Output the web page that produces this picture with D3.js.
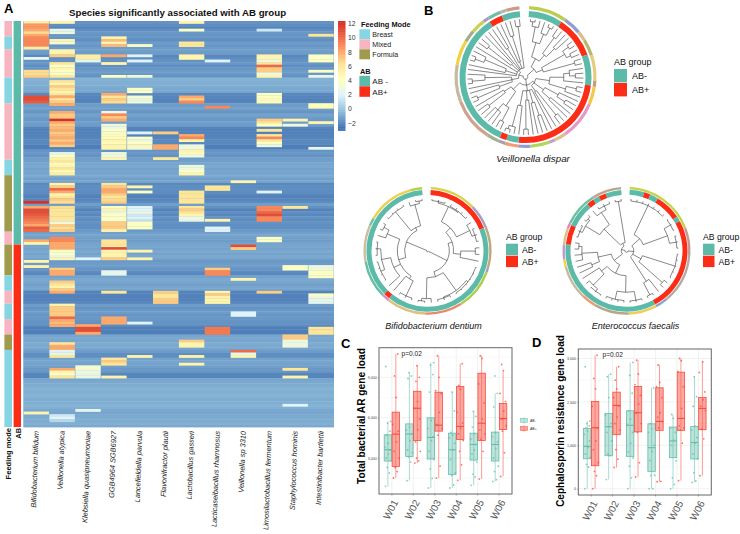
<!DOCTYPE html>
<html><head><meta charset="utf-8">
<script src="https://cdn.jsdelivr.net/npm/d3@7"></script>
<style>html,body{margin:0;padding:0;background:#fff}svg{display:block}text{font-family:"Liberation Sans",Arial,sans-serif}</style>
</head><body><svg id="c" width="740" height="534"></svg>
<script>
// ---------- Panel A data ----------
const species=["Bifidobacterium bifidum","Veillonella atypica","Klebsiella quasipneumoniae","GGB4964 SGB6927","Lancefieldella parvula","Flavonifractor plautii","Lactobacillus gasseri","Lacticaseibacillus rhamnosus","Veillonella sp 3310","Limosilactobacillus fermentum","Staphylococcus hominis","Intestinibacter bartlettii"];
const rowBase=[-1.6,-1.7,-2,-1.7,-1.4,-1.5,-1.5,-1.7,-1.3,-1.5,-1.3,-1.2,-1.3,-1.9,-1.8,-1.6,-1.4,-1.7,-1.5,-1.3,-1.4,-1.6,
-.6,-.7,-.7,-.8,-.9,-1,-1.9,-2,-2.1,-2,-1.3,-1.2,-1.3,-1.5,-1.1,-1.3,-1.4,-1.2,-1.3,-2,-2.1,-2.1,-2.1,-2,-1.9,-1.9,-2.2,-2.2,
-1.5,-1.4,-1.6,-1.3,-1.2,-1,-.9,-1.1,-1,-1,-.9,-1.2,-1,-1.9,-1.8,-1.7,-1.8,-2,-2.1,-2,-1.8,-1.2,-1.6,-2.1,-1.7,-1.9,-1.6,-1.8,-1.6,-1.7,-1.7,-1.4,
-1.2,-1,-1.2,-1.3,-1.1,-1,-1.1,-.9,-1.1,-.9,-1.1,-1.4,-1.3,-1.3,-1.5,-1.8,-1.9,-1.1,-.9,-1,-1.2,-1,-1.1,-2.1,-2.1,-2.1,-2.1,-2,-1.3,-1.6,-1.4,-1.3,-1.5,-1.4,-1.5,-1.6,-1.8,-2.2,-2.2,-2.2,
-1,-.9,-1,-.8,-.9,-1,-1.3,-1.7,-1.8,-1.1,-1,-1.1,-1.2,-1.4,-1.5,-2,-2,-1,-.9,-.8,-.7,-.6,-.7,-.6,-.7,-.8,-.7,-.6,-.7,-.9,-1,-.9,-.8,-.8,-.7,-.9];
const hotRuns=[
 [[0,[5.5,8.5,8.5,8,6.5,8,9,9,9,9,5.5]],[14,[2.5]],[19,[6.5,6.5,7]],[29,[11,11,10.5]],[70,[12]],[72,[8,11,11,10.5,10,9.5,9,8,10.5,10]],[85,[8]],[86,[5]],[93,[5]],[95,[5]],[152,[5]]],
 [[0,[5]],[3,[2.5,3]],[7,[5,3.5]],[11,[5,5,7]],[16,[6,4,5,4,4,6]],[23,[6,5,7,6,5,6,8,6,7,8]],[35,[8,7,7,12,8,7,7.5,8,7,7.5,8,7,8,7]],[51,[2.5,4,5,6,4.5,5,6,4.5,5.5]],[63,[5,7,10,8,5,6,7,6.5]],[72,[6.5,6,6,6,6,6,3,7,6.5,7]],[84,[9,9,8,8,8,4,4,2.5,5]],[96,[7,8,8]],[101,[7,6,5,7,8]],[110,[5,7,7,7,7,10,8,7.5,8]],[125,[6,8,8,2,2.5,6]],[135,[8,5,4,6]],[153,[1.5,2,.8]]],
 [[13,[5.5,5.5,2.5]],[92,[2]],[118,[8,11,11,8]],[134,[3.5,3.5,3,2.8,2.8]],[151,[2.5]]],
 [[6,[5,7.5,5,7.5]],[13,[8]],[16,[5]],[21,[4]],[28,[8,6,7,6.5]],[35,[3,9,7,8]],[40,[3,3,4,3.5,4.5,4.5,5,4.5,5,5]],[51,[3,3,5]],[63,[6,7,8,8,7,6,6.5,7]],[72,[4,5,3,4,4,4,7,7,7,5]],[85,[6,6,6,11,5,5,5,7]],[97,[2.5,2.5]],[105,[6]],[115,[8,8,8]],[131,[6,7,6]],[138,[5]]],
 [[9,[4]],[13,[2]],[15,[2]],[21,[3]],[26,[4,4]],[29,[3.5,3,3]],[43,[2]],[45,[4,3,4,5,3]],[64,[5]],[66,[4]],[72,[2,2,3,1.5,2,1.2,4,4,4]],[89,[5]],[92,[5]],[117,[2]],[130,[5]]],
 [[43,[7]],[48,[8,8]],[53,[6]],[105,[7,6,6,7,7]]],
 [[0,[5]],[3,[4]],[8,[6,6]],[13,[5,5]],[29,[8,7,9]],[44,[8,9,5]],[48,[3,3,5,4.5,3]],[56,[3,3,4,5]],[66,[6,6,6,6,6]],[72,[6,7,6,5,3,2.5]],[124,[7,5,5]],[130,[5]],[133,[5]]],
 [[15,[2]],[33,[9]],[64,[6,6]],[77,[5]],[80,[2,2]],[96,[7,9,9]],[105,[5,7,5,5,5]],[119,[9.5,9.5,9.5]]],
 [[62,[5]],[87,[11,7]],[100,[5]],[113,[2,2]],[128,[10,2.5,5]]],
 [[3,[1.5]],[13,[5,5,3,6,10,7,7,3,5]],[28,[4,4,4.5,4.5]],[38,[7,6,4]],[42,[6]],[44,[6,9,6,4,3]],[66,[2]],[72,[9,9,10,11,9,9]],[84,[4,4]],[105,[7]]],
 [[38,[5]],[40,[3]],[72,[6]],[95,[4,4]],[122,[7,7,3,3,3]],[135,[6]],[138,[5]],[149,[2]]],
 [[5,[6]],[13,[4,4,4]],[19,[4]],[21,[2.5]],[32,[4.5,4.5]],[39,[5]],[49,[2.5]],[95,[3,3,4,4,4]],[106,[4,3,2.5,2.5]],[119,[6,6,6]]]
];
const feedingRuns=[["Mixed",0,5],["Breast",6,10],["Mixed",11,21],["Breast",22,31],["Mixed",32,53],["Breast",54,59],["Formula",60,81],["Mixed",82,86],["Formula",87,98],["Breast",99,104],["Mixed",105,109],["Breast",110,115],["Mixed",116,121],["Formula",122,127],["Breast",128,157]];
const abRuns=[["AB -",0,86],["AB+",87,157]];
const feedingNames=["Breast","Mixed","Formula"], feedingColors=["#86D5E2","#F7B5C1","#A09A4C"];
const colorTicks=[12,10,8,6,4,2,0,-2];
const colorStops=[-2.5,-.2,2,4.2,6.4,8.8,12], colorVals=["#4575B4","#91BFDB","#E0F3F8","#FFFFBF","#FEE090","#FC8D59","#D73027"];
const TEAL="#5CBBA8", RED="#FB2D17";

// ---------- Panel B data ----------
const dispRingAB=[[3,33,0],[33,70,1],[70,97.5,0],[97.5,186,1],[186,197,0],[197,203,1],[203,327,0],[327,339,1],[339,355,0]];
const dispRingTax=[[3,35,"#B9CE4C"],[35,50,"#8F9FCF"],[50,58,"#D9BE8C"],[58,72,"#B5B76B"],[72,93,"#E8CC7E"],[93,98,"#C79E7C"],[98,113,"#F2C94C"],[113,145,"#E39AC8"],[145,155,"#DDBF8E"],[155,160,"#C69BD0"],[160,176,"#AED657"],[176,186,"#8FA0D0"],[186,197,"#F59A72"],[197,203,"#A5A0B0"],[203,213,"#A3B08C"],[213,249,"#CFA28E"],[249,280,"#C5B9A0"],[280,301,"#F4D03F"],[301,311,"#9DAF84"],[311,323,"#CDD04A"],[323,328,"#AB9AC8"],[328,339,"#6FBFA3"],[339,344,"#BDB3AE"],[344,355,"#CF9A88"]];
const dispTree=[4,
 [20,
  [36,[62,[88,[96,0,0],0],[80,0,[94,0,0]]],[50,[84,0,0],[70,0,0]]],
  [32,[78,[90,0,0],[86,0,0]],[58,[88,0,0]]]],
 [14,
  [18,[42,[66,[76,0,[86,0,0]],0],[72,[90,0,0],0]],[38,[64,0,[80,0,0]],[56,0,0]],[30,[84,0,0],0]],
  [24,0,[46,[70,0,0],0],[40,0,[90,0,0]],[50,0,[88,0,[94,0,0]]]],
  [30,[60,[86,0,0],[74,0,0,0]],[44,[80,0,0],0]]],
 [12,
  [24,[48,[90,0,0],0],0,[70,[92,0,0],0]],
  [16,0,[36,0,[76,[92,0,0],0]],0,[32,[82,0,0],0],0,[58,0,0],[28,0,[74,0,0]],[88,0,0]]]
];
// ---------- lower trees data ----------
const dentRingAB=[[3,68,1],[68,219,0],[219,225,1],[225,355,0]];
const dentRingTax=[[3,46,"#D8D24C"],[46,68,"#A99AC6"],[68,106,"#BFA880"],[106,110,"#A99AC6"],[110,148,"#B2CC4E"],[148,182,"#E8896B"],[182,218,"#E0BF80"],[218,225,"#DC90C8"],[225,260,"#66BFA2"],[260,294,"#CDBE9F"],[294,301,"#70BFA0"],[301,344,"#F0CF50"],[344,355,"#B5D050"]];
const dentTree=[2,
 [42,
  [50,[62,[94,[97,0,0,0],[96,0,0,0,0]],[90,0,[96,0,0,0]]],[64,[92,0,0],0]],
  [52,[94,[98,0,0,0,0,0,0],[96,0,0,0]],[92,0,[97,0,0]]]],
 [44,
  [58,[64,[96,0,0,0],0],[72,0,[90,[98,0,0,0,0],[97,0,0,0]]],[84,0,[95,0,0]]],
  [50,[97,0,0,0,0],[92,0,[97,0,0]]]]
];
const entRingAB=[[3,17,0],[17,23,1],[23,31,0],[31,56,1],[56,61,0],[61,152,1],[152,276,0],[276,295,1],[295,320,0],[320,327,1],[327,333,0],[333,340,1],[340,355,0]];
const entRingTax=[[3,69,"#C3D44C"],[69,93,"#C49A94"],[93,140,"#B4ACA4"],[140,152,"#8FA3CF"],[152,178,"#EDCD5B"],[178,210,"#B5A78A"],[210,224,"#F09A6F"],[224,255,"#C9B99C"],[255,262,"#F4D03F"],[262,275,"#BD9AD0"],[275,291,"#D9BE8C"],[291,296,"#DE8AC0"],[296,328,"#6CC0A0"],[328,342,"#C4A08E"],[342,355,"#B5A78A"]];
const entTree=[3,
 [14,
  [34,[96,0,0,0,0,0,0,0],[84,[98,0,0,0],[97,0,0,0]]],
  [32,[98,0,0,0,0,0],[92,0,0]],
  [70,0,[96,0,0]]],
 [10,
  [30,
   [48,[80,[97,0,0,0],[96,0,0,0,0]],[62,[92,[98,0,0,0],0],0]],
   [56,[72,0,0],[86,0,0,[92,0,0]]]],
  [16,[60,[92,[97,0,0,0],[96,0,0]],[88,0,[96,0,0,0]]],[96,0,0]]]
];
// ---------- Box data: [low, q1, median, q3, high] ----------
const weeks=["W01","W02","W03","W04","W05","W06"];
const totalNeg=[[900,2780,3620,4730,5720],[1320,3120,4780,5540,9350],[780,2930,4530,5990,10090],[780,1790,3620,4850,7940],[980,2850,4010,4850,6460],[1270,2780,4010,4930,7810]];
const totalPos=[[1520,2380,4780,6410,10730],[2630,4310,6700,7960,9860],[1520,5000,5440,7890,10600],[1350,4380,5350,8310,10010],[1440,4310,5590,9300,10600],[1640,5120,5940,7050,9470]];
const totalNegPts=[[900,1900,2300,2800,3000,3300,3600,3800,4100,4700,5000,5600,5720,9800],[1320,2700,3100,3400,3600,4300,4800,5100,5300,8900,9100,9350],[780,1500,2200,2900,3500,4300,4600,5200,5800,7900,9200,9900,10090],[780,1000,1700,1900,2900,3600,4100,4500,4700,4900,6500,7900],[980,1600,1800,2700,3300,3600,4000,4400,4800,5300,6100,6460],[1270,1400,2000,2400,3000,3700,4200,4600,4900,6800,7810,9100]];
const totalPosPts=[[1520,2000,2300,3000,3500,4200,5000,5500,7500,9100,10730],[2630,2800,3000,3500,4200,5100,5900,6700,7200,8700,9000,9860],[1520,2400,4700,5200,5500,6400,7800,8000,9000,10600],[1350,2500,3500,4300,4800,5200,5600,6400,8100,8400,10010],[1440,3500,4400,4800,5100,5900,7100,8500,10400,10600],[1640,3400,5000,5400,5900,6500,7200,7800,9500,9950]];
const cephNeg=[[0,690,975,1390,1560],[210,760,1430,1735,2640],[0,745,1460,1795,2910],[0,400,945,1495,2325],[0,715,1100,1420,1710],[145,685,1065,1435,2580]];
const cephPos=[[0,530,1405,2010,3075],[490,1245,1920,2225,2810],[270,1310,1750,2355,2960],[160,1345,1550,2325,2850],[185,1345,1620,2685,3000],[300,1360,1850,2100,2925]];
const cephNegPts=[[0,500,560,720,800,950,1100,1250,1330,1400,1450,1500,1560,2810],[210,760,800,1100,1300,1430,1500,1700,2100,2580,2640],[0,250,520,710,850,1050,1300,1480,1600,1800,2200,2610,2910],[0,0,300,310,650,860,1000,1300,1380,1500,2325],[0,100,250,640,1000,1120,1300,1400,1620,1710],[145,180,370,690,800,1050,1180,1350,1450,1900,2120,2580]];
const cephPosPts=[[0,300,400,600,900,1100,1400,1900,2300,2540,3075],[490,680,900,1350,1500,1650,1900,2100,2300,2500,2810],[270,600,1300,1500,1750,1950,2150,2400,2640,2960],[160,170,1400,1550,1650,1750,2100,2350,2450,2850],[185,1050,1350,1400,1450,1850,2350,2700,2950,3000],[300,1150,1370,1800,1900,2050,2230,2680,2925]];
const jitter=[-.7,.4,-.2,.9,-.5,.2,.7,-.9,.1,-.4,.6,-.1,.8,-.6];
const pLabel="p=0.02";

// ---------- Drawing ----------
const svg=d3.select("#c");
svg.append("defs").append("filter").attr("id","soft").attr("x",0).attr("y",0).attr("width","100%").attr("height","100%").append("feGaussianBlur").attr("stdDeviation",.35);
const txt=(g,x,y,s,o={})=>g.append("text").attr("x",x).attr("y",y).text(s).attr("font-size",o.size||8).attr("font-weight",o.bold?"bold":null).attr("font-style",o.italic?"italic":null).attr("text-anchor",o.anchor||"start").attr("fill",o.fill||"#111").attr("transform",o.rot!=null?`rotate(${o.rot} ${x} ${y})`:null);

// Panel letters
[["A",4,13],["B",424,15],["C",341,348],["D",532,347]].forEach(d=>txt(svg,d[1],d[2],d[0],{size:13,bold:true,fill:"#000"}));

// Heatmap
const color=d3.scaleLinear().domain(colorStops).range(colorVals).clamp(true);
const hx=d3.scaleBand().domain(species).range([23.3,334]);
const hy=d3.scaleBand().domain(d3.range(rowBase.length)).range([21,427]);
const A=svg.append("g");
const H=A.append("g").attr("filter","url(#soft)");
H.append("g").selectAll("rect").data(rowBase).join("rect").attr("x",hx.range()[0]).attr("width",hx.range()[1]-hx.range()[0]).attr("y",(d,i)=>hy(i)).attr("height",hy.bandwidth()+.4).attr("fill",d=>color(d));
const hot=[];
hotRuns.forEach((runs,c)=>runs.forEach(([s,vals])=>vals.forEach((v,k)=>hot.push({c,r:s+k,v}))));
H.append("g").selectAll("rect").data(hot.sort((a,b)=>a.r-b.r)).join("rect").attr("x",d=>hx(species[d.c])+.25).attr("width",hx.bandwidth()-.5).attr("y",d=>hy(d.r)).attr("height",hy.bandwidth()+.25).attr("fill",d=>color(d.v));
const feedScale=d3.scaleOrdinal().domain(feedingNames).range(feedingColors);
const abScale=d3.scaleOrdinal().domain(["AB -","AB+"]).range([TEAL,RED]);
A.append("g").selectAll("rect").data(feedingRuns).join("rect").attr("x",4.4).attr("width",7.6).attr("y",d=>hy(d[1])).attr("height",d=>hy(d[2])+hy.bandwidth()-hy(d[1])).attr("fill",d=>feedScale(d[0]));
A.append("g").selectAll("rect").data(abRuns).join("rect").attr("x",13.6).attr("width",7.4).attr("y",d=>hy(d[1])).attr("height",d=>hy(d[2])+hy.bandwidth()-hy(d[1])).attr("fill",d=>abScale(d[0]));
txt(svg,69,15.5,"Species significantly associated with AB group",{size:9.7,bold:true});
species.forEach(s=>txt(svg,hx(s)+hx.bandwidth()/2+2.4,431,s,{size:7.4,italic:true,anchor:"end",rot:-88,fill:"#222"}));
txt(svg,11,428,"Feeding mode",{size:7.6,bold:true,anchor:"end",rot:-90});
txt(svg,20.6,428,"AB",{size:7.4,bold:true,anchor:"end",rot:-90});

// Colour bar
const barY=d3.scaleLinear().domain([-3,12.4]).range([130.5,21]);
svg.append("g").selectAll("rect").data(d3.range(-3,12.4,.1)).join("rect").attr("x",338).attr("width",7.4).attr("y",d=>barY(d+.1)).attr("height",(barY(0)-barY(.1))+.4).attr("fill",d=>color(d));
colorTicks.forEach(t=>txt(svg,348,barY(t)+2.3,t<0?"\u2212"+(-t):String(t),{size:6.8,fill:"#333"}));

// Annotation legend
txt(svg,361,26.8,"Feeding Mode",{size:7.4,bold:true});
feedingNames.forEach((n,i)=>{svg.append("rect").attr("x",359.4).attr("y",29.3+i*10).attr("width",10.6).attr("height",10).attr("fill",feedingColors[i]);txt(svg,372.3,36.7+i*10.3,n,{size:7.1,fill:"#222"});});
txt(svg,360,73.5,"AB",{size:7.4,bold:true});
[["AB -",TEAL],["AB+",RED]].forEach((d,i)=>{svg.append("rect").attr("x",359.4).attr("y",75.8+i*10.5).attr("width",10.6).attr("height",10.5).attr("fill",d[1]);txt(svg,372.3,84+i*10.6,d[0],{size:8,fill:"#222"});});

// Circular trees
function tree(cx,cy,R,ringAB,ringTax,spec,caption,capY,lg,o){
 const g=svg.append("g").attr("transform",`translate(${cx},${cy})`);
 const rad=d=>d*Math.PI/180;
 const arc=d3.arc();
 g.selectAll(".t").data(ringTax).join("path").attr("fill",d=>d[2]).attr("d",d=>arc({innerRadius:R-o.tax,outerRadius:R,startAngle:rad(d[0]),endAngle:rad(d[1])}));
 g.selectAll(".a").data(ringAB).join("path").attr("class","a").attr("fill",d=>d[2]?RED:TEAL).attr("d",d=>arc({innerRadius:o.abIn,outerRadius:o.abOut,startAngle:rad(d[0]),endAngle:rad(d[1])}));
 const root=d3.hierarchy(spec,d=>Array.isArray(d)?d.slice(1):null);
 const leaves=root.leaves();
 const ang=d3.scalePoint().domain(d3.range(leaves.length)).range([5,354]);
 const r=d3.scaleLinear().domain([0,100]).range([0,o.leaf]);
 leaves.forEach((l,i)=>l.a=ang(i));
 root.eachAfter(n=>{n.rv=n.children?n.data[0]:100; if(n.children)n.a=(n.children[0].a+n.children[n.children.length-1].a)/2;});
 const pt=(a,v)=>[r(v)*Math.sin(rad(a)),-r(v)*Math.cos(rad(a))];
 const p=d3.path();
 root.each(n=>{
  if(n.parent){const a=pt(n.a,n.parent.rv),b=pt(n.a,n.rv);p.moveTo(a[0],a[1]);p.lineTo(b[0],b[1]);}
  if(n.children){const a0=n.children[0].a,a1=n.children[n.children.length-1].a,s=pt(a0,n.rv);p.moveTo(s[0],s[1]);p.arc(0,0,r(n.rv),rad(a0-90),rad(a1-90));}
 });
 g.append("path").attr("d",p.toString()).attr("fill","none").attr("stroke","#111").attr("stroke-width",.5);
 txt(svg,caption[1],capY,caption[0],{size:caption[2],italic:true,anchor:"middle",fill:"#111"});
 txt(svg,lg.x,lg.y,"AB group",{size:lg.size,fill:"#111"});
 [["AB-",TEAL],["AB+",RED]].forEach((d,i)=>{svg.append("rect").attr("x",lg.x).attr("y",lg.y+lg.off+i*lg.h).attr("width",lg.w).attr("height",lg.h-.6).attr("fill",d[1]);txt(svg,lg.x+lg.w+lg.gap,lg.y+lg.off+i*lg.h+lg.h/2+3,d[0],{size:lg.size,fill:"#111"});});
}
tree(525.5,77,71,dispRingAB,dispRingTax,dispTree,["Veillonella dispar",533,9.8],162,{x:614,y:65,size:9,off:4,h:14,w:13,gap:5},{tax:3.2,abOut:66,abIn:60,leaf:58});
tree(427.5,250.8,64,dentRingAB,dentRingTax,dentTree,["Bifidobacterium dentium",433.5,9],328.5,{x:506,y:240,size:8.7,off:3.7,h:12,w:12,gap:4},{tax:2.4,abOut:61,abIn:56,leaf:52});
tree(626.5,250.7,64,entRingAB,entRingTax,entTree,["Enterococcus faecalis",635.5,9],328.5,{x:703,y:240,size:8.7,off:3.7,h:12,w:11.5,gap:4},{tax:2.4,abOut:61,abIn:56,leaf:52});

// Box plots
function boxes(x0,x1,yTop,yBot,dom,ticks,minor,neg,pos,negP,posP,pLab,yTitle,tx,tcy,tsize){
 const g=svg.append("g");
 const x=d3.scaleBand().domain(weeks).range([x0,x1]).paddingInner(0).paddingOuter(.1);
 const sub=d3.scaleBand().domain([0,1]).range([-7.9,7.9]);
 const y=d3.scaleLinear().domain(dom).range([yBot,yTop]);
 const grid=g.append("g").attr("stroke","#EDEDED");
 minor.forEach(v=>grid.append("line").attr("x1",x0).attr("x2",x1).attr("y1",y(v)).attr("y2",y(v)).attr("stroke-width",.35));
 ticks.forEach(v=>grid.append("line").attr("x1",x0).attr("x2",x1).attr("y1",y(v)).attr("y2",y(v)).attr("stroke-width",.7));
 weeks.forEach(w=>grid.append("line").attr("x1",x(w)+x.bandwidth()/2).attr("x2",x(w)+x.bandwidth()/2).attr("y1",yTop).attr("y2",yBot).attr("stroke-width",.7));
 [[neg,negP,"#63BDA9","#63BDA9",.42,0],[pos,posP,"#FA4A3A","#FB5A4C",.52,1]].forEach(([st,pts,c,f,op,s])=>{
  st.forEach((b,i)=>{
   const cx=x(weeks[i])+x.bandwidth()/2+sub(s)+sub.bandwidth()/2, w=sub.bandwidth()-.5;
   g.append("line").attr("x1",cx).attr("x2",cx).attr("y1",y(b[0])).attr("y2",y(b[4])).attr("stroke",c).attr("stroke-opacity",.55).attr("stroke-width",1);
   g.append("rect").attr("x",cx-w/2).attr("width",w).attr("y",y(b[3])).attr("height",y(b[1])-y(b[3])).attr("fill",f).attr("fill-opacity",op).attr("stroke",c).attr("stroke-width",.8);
   g.append("line").attr("x1",cx-w/2).attr("x2",cx+w/2).attr("y1",y(b[2])).attr("y2",y(b[2])).attr("stroke",c).attr("stroke-width",1.1);
   g.selectAll(null).data(pts[i]).join("circle").attr("cx",(d,k)=>cx+jitter[k%jitter.length]*3.4).attr("cy",d=>y(d)).attr("r",.9).attr("fill",c).attr("fill-opacity",.75);
  });
 });
 g.append("rect").attr("x",x0).attr("y",yTop).attr("width",x1-x0).attr("height",yBot-yTop).attr("fill","none").attr("stroke","#666").attr("stroke-width",1);
 const ay=g.append("g").attr("transform",`translate(${x0},0)`).call(d3.axisLeft(y).tickValues(ticks).tickSize(1.2).tickPadding(1));
 ay.select(".domain").remove(); ay.selectAll("line").attr("stroke","#555").attr("stroke-width",.4);
 ay.selectAll("text").attr("font-size",3.6).attr("fill","#444");
 const ax=g.append("g").attr("transform",`translate(0,${yBot})`).call(d3.axisBottom(x).tickSize(1.5).tickPadding(1));
 ax.select(".domain").remove(); ax.selectAll("line").attr("stroke","#555").attr("stroke-width",.5);
 ax.selectAll("text").attr("font-size",10).attr("fill","#555").attr("text-anchor","end").attr("dy",0).attr("transform","translate(4.5,7) rotate(-62)");
 txt(svg,pLab[0],pLab[1],pLabel,{size:6.6,fill:"#222"});
 txt(svg,tx,tcy,yTitle,{size:tsize,bold:true,anchor:"middle",rot:-90,fill:"#000"});
}
boxes(379,512,347.7,494,[333,11197],[3000,6000,9000],[1500,4500,7500,10500],totalNeg,totalPos,totalNegPts,totalPosPts,[401.5,356],"Total bacterial AR gene load",364.5,416,10.2);
boxes(578.3,711.3,349,495,[-145,3219],[0,1000,2000,3000],[500,1500,2500],cephNeg,cephPos,cephNegPts,cephPosPts,[602.5,357],"Cephalosporin resistance gene load",563.5,421,10);

// Legend C
[["AB-","#63BDA9",.4],["AB+","#FA4A3A",.5]].forEach((d,i)=>{
 const yy=420.3+i*8.3;
 svg.append("line").attr("x1",524).attr("x2",524).attr("y1",yy-3.5).attr("y2",yy+3.5).attr("stroke",d[1]).attr("stroke-opacity",.6).attr("stroke-width",.6);
 svg.append("rect").attr("x",520.5).attr("y",yy-2).attr("width",7).attr("height",4).attr("fill",d[1]).attr("fill-opacity",d[2]).attr("stroke",d[1]).attr("stroke-width",.5);
 txt(svg,530,yy+1.2,d[0],{size:3.5,fill:"#333"});
});
</script></body></html>
